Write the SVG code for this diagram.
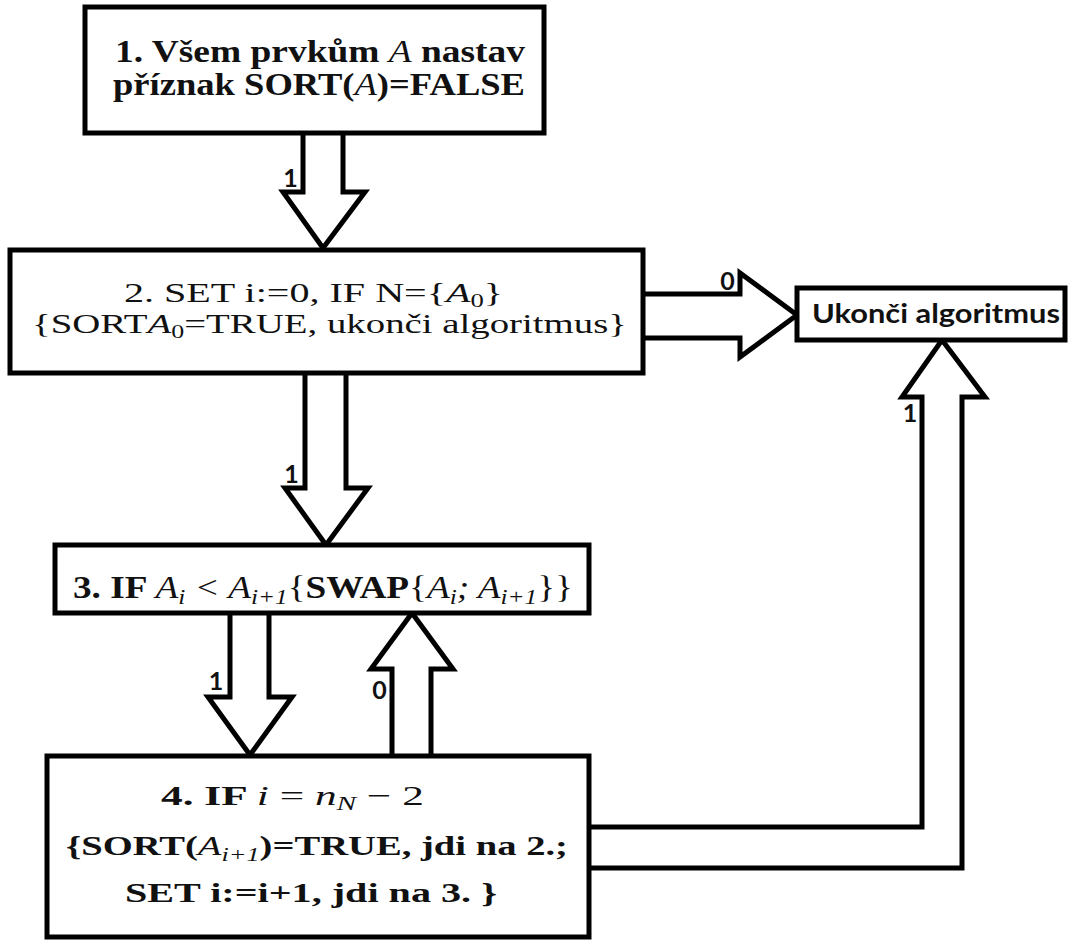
<svg xmlns="http://www.w3.org/2000/svg" width="1068" height="940" viewBox="0 0 1068 940">
<style>
.box{fill:#fff;stroke:#000;stroke-width:5}
.arr{fill:#fff;stroke:#000;stroke-width:5;stroke-linejoin:miter}
.t{font-family:"Liberation Serif","DejaVu Serif",serif;fill:#111;text-anchor:middle}
.b{font-weight:bold}
.it{font-style:italic;font-weight:normal}
.lbl{font-family:Lato,"DejaVu Sans",sans-serif;font-weight:bold;font-size:25px;fill:#111;text-anchor:middle}
.s{font-family:Lato,"DejaVu Sans",sans-serif;font-weight:bold;font-size:26px;fill:#111}
</style>
<rect width="1068" height="940" fill="#fff"/>
<g id="connectors">
<path class="arr" d="M303,133 V192 H283 L323,248 L365,192 H343 V133"/>
<path class="arr" d="M643,294 H740 V273 L797,315 L740,357 V338 H643"/>
<path class="arr" d="M305,375 V488 H285 L326,545 L368,488 H346 V375"/>
<path class="arr" d="M230,613 V697 H208 L250,755 L292,697 H269 V613"/>
<path class="arr" d="M392,756 V669 H371 L412,613 L453,669 H431 V756"/>
<path class="arr" d="M589,827 H922 V397 H902 L942,340 L985,397 H962 V868 H589"/>
<text class="lbl" x="290.5" y="187">1</text>
<text class="lbl" x="727.5" y="290">0</text>
<text class="lbl" x="291.5" y="483">1</text>
<text class="lbl" x="216" y="690">1</text>
<text class="lbl" x="379.5" y="699">0</text>
<text class="lbl" x="910" y="422">1</text>
</g>
<g id="node1">
<rect class="box" x="85" y="7" width="459" height="126"/>
<text class="t b" x="320" y="62" font-size="32" textLength="410" lengthAdjust="spacingAndGlyphs">1. Všem prvkům <tspan class="it">A</tspan> nastav</text>
<text class="t b" x="319" y="95" font-size="32" textLength="412" lengthAdjust="spacingAndGlyphs">příznak SORT(<tspan class="it">A</tspan>)=FALSE</text>
</g>
<g id="node2">
<rect class="box" x="10" y="250" width="633" height="123"/>
<text class="t" x="313.5" y="302" font-size="27" textLength="379" lengthAdjust="spacingAndGlyphs">2. SET i:=0, IF N={<tspan class="it">A</tspan><tspan font-size="18" dy="5">0</tspan><tspan dy="-5">}</tspan></text>
<text class="t" x="329.5" y="333" font-size="27" textLength="595" lengthAdjust="spacingAndGlyphs">{SORT<tspan class="it">A</tspan><tspan font-size="18" dy="5">0</tspan><tspan dy="-5">=TRUE, ukonči algoritmus}</tspan></text>
</g>
<g id="node_end">
<rect class="box" x="797" y="288" width="268" height="52"/>
<text class="s" x="812" y="323" textLength="248" lengthAdjust="spacingAndGlyphs">Ukonči algoritmus</text>
</g>
<g id="node3">
<rect class="box" x="55" y="545" width="534" height="68"/>
<text class="t b" x="323" y="598" font-size="31" textLength="500" lengthAdjust="spacingAndGlyphs">3. IF <tspan class="it">A</tspan><tspan class="it" font-size="21" dy="6">i</tspan><tspan class="it" dy="-6"> &lt; A</tspan><tspan class="it" font-size="21" dy="6">i+1</tspan><tspan dy="-6" font-weight="normal">{</tspan><tspan>SWAP</tspan><tspan font-weight="normal">{</tspan><tspan class="it">A</tspan><tspan class="it" font-size="21" dy="6">i</tspan><tspan class="it" dy="-6">; A</tspan><tspan class="it" font-size="21" dy="6">i+1</tspan><tspan dy="-6" font-weight="normal">}}</tspan></text>
</g>
<g id="node4">
<rect class="box" x="47" y="756" width="542" height="181"/>
<text class="t b" x="292.5" y="805" font-size="28" textLength="263" lengthAdjust="spacingAndGlyphs">4. IF <tspan class="it">i</tspan><tspan font-weight="normal"> = </tspan><tspan class="it">n</tspan><tspan class="it" font-size="19" dy="5">N</tspan><tspan dy="-5" font-weight="normal"> − 2</tspan></text>
<text class="t b" x="317" y="855" font-size="28" textLength="502" lengthAdjust="spacingAndGlyphs">{SORT(<tspan class="it">A</tspan><tspan class="it" font-size="19" dy="6">i+1</tspan><tspan dy="-6">)=TRUE, jdi na 2.;</tspan></text>
<text class="t b" x="311" y="902" font-size="28" textLength="372" lengthAdjust="spacingAndGlyphs">SET i:=i+1, jdi na 3. }</text>
</g>
</svg>
